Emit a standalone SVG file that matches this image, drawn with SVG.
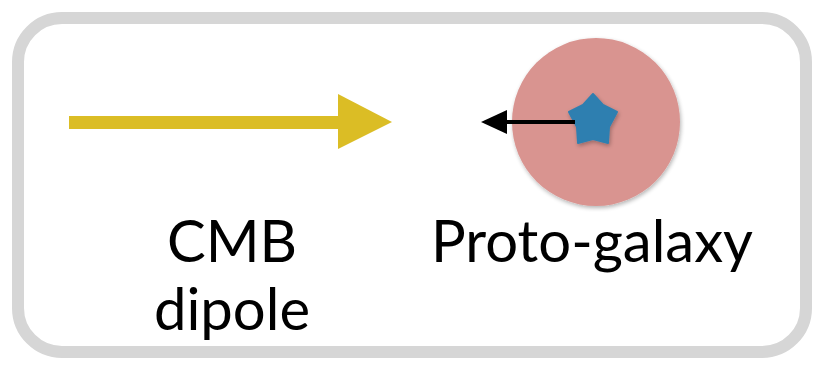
<svg xmlns="http://www.w3.org/2000/svg" width="824" height="371" viewBox="0 0 824 371">
<defs>
<style>
.lbl{font-family:Lato,"Open Sans","Liberation Sans",sans-serif;font-size:58px;fill:#000;text-anchor:middle}
</style>
<filter id="sh" x="-20%" y="-20%" width="140%" height="140%"><feGaussianBlur in="SourceAlpha" stdDeviation="2"/><feOffset dx="1" dy="2"/><feComponentTransfer><feFuncA type="linear" slope="0.3"/></feComponentTransfer><feMerge><feMergeNode/><feMergeNode in="SourceGraphic"/></feMerge></filter>
</defs>
<rect width="824" height="371" fill="#fff"/>
<g id="frame">
<rect x="18" y="18" width="788" height="334" rx="44" ry="44" fill="none" stroke="#d6d6d6" stroke-width="12"/>
</g>
<g id="galaxy">
<circle cx="596" cy="122" r="84" fill="#d99490" filter="url(#sh)"/>
<path d="M593,94 L603,105 L617,112 L609,127 L608,143 L593,139 L578,143 L577,127 L569,112 L583,105 Z" fill="#2f7fb0" stroke="#2f7fb0" stroke-width="2" stroke-linejoin="round" filter="url(#sh)"/>
</g>
<g id="connectors">
<path d="M69,122.5 L339,122.5" stroke="#dbbd25" stroke-width="13" fill="none"/>
<path d="M338,94 L392,122 L338,149 Z" fill="#dbbd25"/>
<path d="M575,122 L503,122" stroke="#000" stroke-width="4" fill="none"/>
<path d="M481,122 L507,110 L507,134 Z" fill="#000"/>
</g>
<g id="labels">
<text class="lbl" x="232" y="262">CMB</text>
<text class="lbl" x="232" y="330">dipole</text>
<text class="lbl" x="592" y="262">Proto-galaxy</text>
</g>
</svg>
